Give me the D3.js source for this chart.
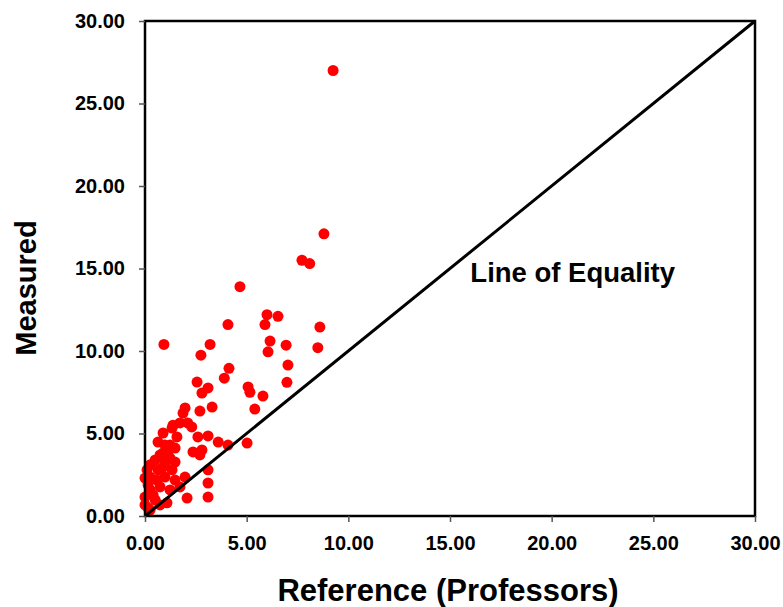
<!DOCTYPE html>
<html>
<head>
<meta charset="utf-8">
<script src="https://cdn.jsdelivr.net/npm/d3@7"></script>
<style>
  body { margin: 0; background: #fff; }
  text { font-family: Arial, "Liberation Sans", sans-serif; font-weight: bold; fill: #000; }
</style>
</head>
<body>
<div id="chart"></div>
<script>
var margin = {top: 21, right: 28, bottom: 91, left: 145},
    width = 783 - margin.left - margin.right,
    height = 607 - margin.top - margin.bottom;

// reference (professors) vs measured
var refValues = [
  9.25, 7.72, 8.1, 8.8, 4.67, 4.08, 8.6, 8.5, 6.0, 6.54, 5.9, 6.15, 6.05, 6.94, 7.03, 6.98,
  0.93, 3.2, 2.75, 4.13, 3.9,
  2.56, 3.1, 2.8, 5.07, 5.16, 5.8, 5.4, 1.97, 1.87, 2.7, 3.3,
  1.38, 1.72, 2.1, 2.3, 0.89, 1.33, 0.64, 1.57, 2.6, 3.1, 3.6, 4.08, 5.02,
  2.36, 2.8, 2.7, 0.89, 1.13, 1.23, 0.98, 0.84, 0.1, 0.0, 0.25, 0.59, 0.98, 1.97,
  3.1, 3.1, 3.1, 2.07, 1.08, 0.25, 0.0, 0.0, 0.4, 0.74, 0.15,
  1.23, 1.48, 0.98, 0.74, 0.5, 0.25, 0.64, 1.33, 1.48, 0.15, 0.5, 0.25, 0.74, 1.23, 1.48, 1.72
];
var measuredValues = [
  27.0, 15.5, 15.3, 17.1, 13.9, 11.6, 11.45, 10.2, 12.2, 12.1, 11.6, 10.6, 9.95, 10.35, 9.15, 8.1,
  10.4, 10.4, 9.75, 8.95, 8.35,
  8.12, 7.76, 7.45, 7.82, 7.5, 7.27, 6.48, 6.55, 6.24, 6.36, 6.6,
  5.5, 5.64, 5.64, 5.4, 5.03, 5.33, 4.48, 4.79, 4.79, 4.85, 4.48, 4.3, 4.42,
  3.88, 4.0, 3.7, 3.82, 3.88, 3.5, 3.2, 2.9, 2.8, 2.3, 2.36, 2.18, 2.36, 2.36,
  2.8, 2.0, 1.15, 1.09, 0.8, 1.58, 1.15, 0.67, 1.27, 1.76, 0.48,
  4.3, 4.12, 4.3, 3.7, 3.4, 3.1, 2.8, 2.8, 3.27, 1.88, 0.97, 0.36, 0.67, 1.58, 2.18, 1.76
];
var tickValues = [0, 5, 10, 15, 20, 25, 30];

var data = refValues.map(function(r, i) { return {x: r, y: measuredValues[i]}; });

var x = d3.scaleLinear().domain([0, 30]).range([0, width]);
var y = d3.scaleLinear().domain([0, 30]).range([height, 0]);

var svg = d3.select("#chart").append("svg")
    .attr("width", 783)
    .attr("height", 607);

var g = svg.append("g")
    .attr("transform", "translate(" + margin.left + "," + margin.top + ")");

// points
g.selectAll("circle")
  .data(data)
  .enter()
  .append("circle")
    .attr("cx", function(d) { return x(d.x); })
    .attr("cy", function(d) { return y(d.y); })
    .attr("r", 5.5)
    .style("fill", "#ff0000");

// line of equality
g.append("line")
    .attr("x1", x(0)).attr("y1", y(0))
    .attr("x2", x(30)).attr("y2", y(30))
    .attr("stroke", "#000")
    .attr("stroke-width", 3);

// frame
g.append("rect")
    .attr("width", width)
    .attr("height", height)
    .attr("fill", "none")
    .attr("stroke", "#000")
    .attr("stroke-width", 2.5);

var fmt = d3.format(".2f");

var xAxis = g.append("g")
    .attr("transform", "translate(0," + height + ")")
    .call(d3.axisBottom(x).tickValues(tickValues).tickFormat(fmt).tickSize(6).tickPadding(14));
var yAxis = g.append("g")
    .call(d3.axisLeft(y).tickValues(tickValues).tickFormat(fmt).tickSize(6).tickPadding(14));

[xAxis, yAxis].forEach(function(a) {
  a.select(".domain").remove();
  a.selectAll(".tick line").attr("stroke", "#555").attr("stroke-width", 1.5);
  a.selectAll(".tick text").style("font-size", "20px").attr("fill", "#000");
});

g.append("text")
    .attr("x", x(16))
    .attr("y", y(14.8) + 10)
    .style("font-size", "27.5px")
    .text("Line of Equality");

svg.append("text")
    .attr("x", 448)
    .attr("y", 601)
    .attr("text-anchor", "middle")
    .style("font-size", "31px")
    .text("Reference (Professors)");

svg.append("text")
    .attr("transform", "translate(36,288) rotate(-90)")
    .attr("text-anchor", "middle")
    .style("font-size", "29px")
    .text("Measured");
</script>
</body>
</html>
